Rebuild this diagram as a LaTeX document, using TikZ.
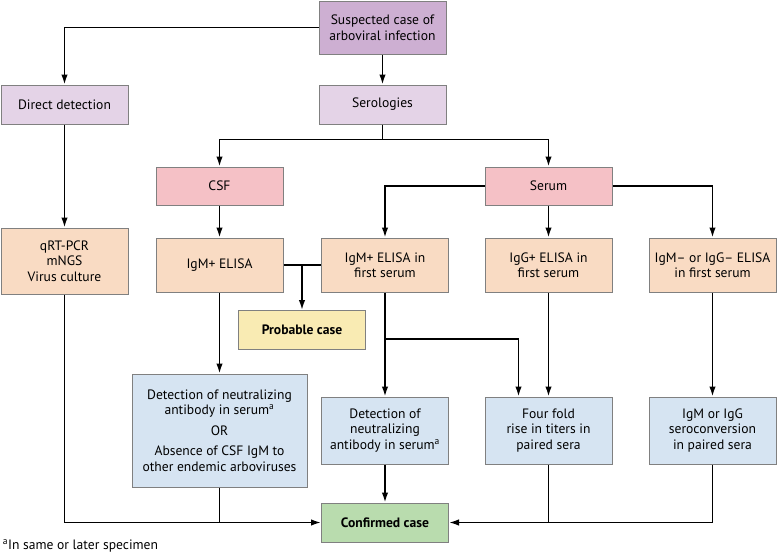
\documentclass[tikz,border=0pt]{standalone}
\usepackage{fontspec}
\setmainfont{PT Sans}
\usetikzlibrary{arrows.meta}

\begin{document}
\begin{tikzpicture}[x=1pt, y=-1pt, >={Latex[length=10pt,width=6.5pt]}, line width=1.7pt,
    box/.style={draw=black!50, line width=1pt, inner sep=0pt, align=center,
        minimum width=127pt, minimum height=39pt, font=\fontsize{13.6}{15.5}\selectfont},
    top/.style={box, fill=suspcol, minimum height=53pt},
    branch/.style={box, fill=branchcol},
    sample/.style={box, fill=samplecol, minimum height=38pt},
    test/.style={box, fill=testcol, minimum height=54pt},
    result/.style={box, fill=resultcol, minimum height=67pt},
    verdict/.style={box, fill=#1, font=\fontsize{13.6}{15.5}\selectfont\bfseries}]
    \definecolor{suspcol}{HTML}{CDAFD2}
    \definecolor{branchcol}{HTML}{E4D3E7}
    \definecolor{samplecol}{HTML}{F5C1C6}
    \definecolor{testcol}{HTML}{F9DBC3}
    \definecolor{resultcol}{HTML}{D6E4F2}
    \definecolor{probcol}{HTML}{F9EBB3}
    \definecolor{confcol}{HTML}{B9DCAE}
    \useasboundingbox (0,0) rectangle (777,555);

    %define the boxes
    \node[top] (susp) at (382.5,27.5) {Suspected case of\\arboviral infection};
    \node[branch] (direct) at (64.5,104.5) {Direct detection};
    \node[branch] (sero) at (382.5,104.5) {Serologies};
    \node[sample] (csf) at (219.5,186) {CSF};
    \node[sample] (serum) at (548.5,186) {Serum};
    \node[test, minimum height=66pt] (pcr) at (64.5,261) {qRT-PCR\\mNGS\\Virus culture};
    \node[test] (cigm) at (219.5,265) {IgM+ ELISA};
    \node[test] (sigm) at (385,265) {IgM+ ELISA in\\first serum};
    \node[test] (sigg) at (548.5,265) {IgG+ ELISA in\\first serum};
    \node[test] (sneg) at (712.5,265) {IgM-- or IgG-- ELISA\\in first serum};
    \node[verdict=probcol] (prob) at (302,330) {Probable case};
    \node[result, minimum width=175pt, minimum height=113pt] (neut1) at (219.5,430.5)
        {Detection of neutralizing\\antibody in serum\textsuperscript{a}\\[5pt]OR\\[5pt]Absence of CSF IgM to\\other endemic arboviruses};
    \node[result] (neut2) at (385,430.5) {Detection of\\neutralizing\\antibody in serum\textsuperscript{a}};
    \node[result] (four) at (548.5,430.5) {Four fold\\rise in titers in\\paired sera};
    \node[result] (conv) at (712.5,430.5) {IgM or IgG\\seroconversion\\in paired sera};
    \node[verdict=confcol] (conf) at (385,522.5) {Confirmed case};
    \node[anchor=west, inner sep=0pt, font=\fontsize{13.6}{15.5}\selectfont] (note) at (2,546)
        {\textsuperscript{a}In same or later specimen};

    %define the junctions
    \coordinate (pj) at (prob.north |- cigm.east);
    \coordinate (fj) at (385,339);

    %define the links
    \draw[->] (susp.west) -| (direct.north);
    \draw[->] (susp.south) -- (sero.north);
    \draw[->] (sero.south) -- ++(0,15) -| (csf.north);
    \draw[->] (sero.south) -- ++(0,15) -| (serum.north);
    \draw[->] (serum.west) -| (sigm.north);
    \draw[->] (serum.south) -- (sigg.north);
    \draw[->] (serum.east) -| (sneg.north);
    \draw[->] (direct.south) -- (pcr.north);
    \draw[->] (csf.south) -- (cigm.north);
    \draw (cigm.east) -- (sigm.west);
    \draw[->] (pj) -- (prob.north);
    \draw[->] (cigm.south) -- (neut1.north);
    \draw[->] (sigm.south) -- (neut2.north);
    \draw[->] (fj) -| ([xshift=-30pt]four.north);
    \draw[->] (sigg.south) -- (four.north);
    \draw[->] (sneg.south) -- (conv.north);
    \draw[->] (neut2.south) -- (conf.north);
    \draw[->] (pcr.south) |- (conf.west);
    \draw (neut1.south) -- (neut1.south |- conf.west);
    \draw[->] (conv.south) |- (conf.east);
    \draw (four.south) -- (four.south |- conf.east);
\end{tikzpicture}
\end{document}
